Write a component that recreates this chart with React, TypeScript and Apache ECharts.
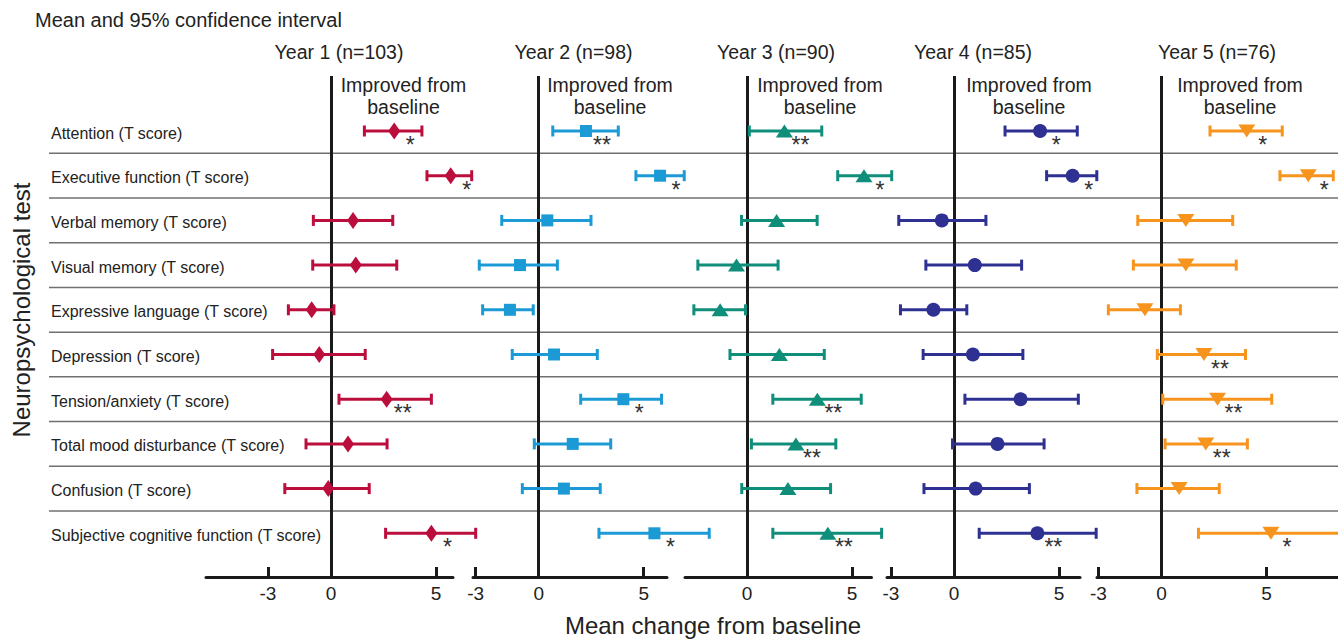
import React, { useEffect, useRef } from "react";
import * as echarts from "echarts";

// ---------- data ----------
const rowLabels = [
  "Attention (T score)",
  "Executive function (T score)",
  "Verbal memory (T score)",
  "Visual memory (T score)",
  "Expressive language (T score)",
  "Depression (T score)",
  "Tension/anxiety (T score)",
  "Total mood disturbance (T score)",
  "Confusion (T score)",
  "Subjective cognitive function (T score)",
];
const yearLabels = ["Year 1 (n=103)", "Year 2 (n=98)", "Year 3 (n=90)", "Year 4 (n=85)", "Year 5 (n=76)"];
const tickValues = [-3, 0, 5];

const y1Mean = [3.01, 5.7, 1.05, 1.18, -0.92, -0.56, 2.65, 0.81, -0.13, 4.78];
const y1Low = [1.59, 4.57, -0.84, -0.87, -2.03, -2.78, 0.38, -1.19, -2.2, 2.6];
const y1High = [4.33, 6.7, 2.94, 3.13, 0.14, 1.63, 4.78, 2.67, 1.82, 6.89];
const y1Sig = ["*", "*", "", "", "", "", "**", "", "", "*"];

const y2Mean = [2.25, 5.78, 0.41, -0.89, -1.37, 0.73, 4.03, 1.62, 1.2, 5.51];
const y2Low = [0.67, 4.63, -1.76, -2.83, -2.67, -1.26, 2.0, -0.21, -0.78, 2.87];
const y2High = [3.79, 6.93, 2.49, 0.89, -0.26, 2.79, 5.85, 3.43, 2.93, 8.12];
const y2Sig = ["**", "*", "", "", "", "", "*", "", "", "*"];

const y3Mean = [1.78, 5.57, 1.41, -0.5, -1.28, 1.54, 3.35, 2.33, 1.95, 3.85];
const y3Low = [0.11, 4.32, -0.26, -2.34, -2.53, -0.81, 1.23, 0.21, -0.25, 1.23];
const y3High = [3.56, 6.89, 3.34, 1.48, -0.07, 3.68, 5.44, 4.23, 3.98, 6.41];
const y3Sig = ["**", "*", "", "", "", "", "**", "**", "", "**"];

const y4Mean = [4.1, 5.65, -0.58, 0.99, -0.98, 0.9, 3.17, 2.07, 1.03, 3.97];
const y4Low = [2.43, 4.41, -2.63, -1.34, -2.55, -1.47, 0.52, -0.07, -1.43, 1.2];
const y4High = [5.87, 6.8, 1.52, 3.22, 0.61, 3.28, 5.92, 4.29, 3.59, 6.77];
const y4Sig = ["*", "*", "", "", "", "", "", "", "", "**"];

const y5Mean = [4.06, 6.99, 1.16, 1.16, -0.79, 2.02, 2.67, 2.11, 0.84, 5.21];
const y5Low = [2.31, 5.64, -1.13, -1.34, -2.53, -0.2, 0.06, 0.17, -1.17, 1.76];
const y5High = [5.75, 8.18, 3.39, 3.56, 0.9, 4.0, 5.25, 4.09, 2.75, 9.0];
const y5Sig = ["*", "*", "", "", "", "**", "**", "**", "", "*"];

const means = [y1Mean, y2Mean, y3Mean, y4Mean, y5Mean];
const lows = [y1Low, y2Low, y3Low, y4Low, y5Low];
const highs = [y1High, y2High, y3High, y4High, y5High];
const sigs = [y1Sig, y2Sig, y3Sig, y4Sig, y5Sig];

// ---------- styles / layout ----------
const W = 1338;
const H = 639;
const FONT = '"Liberation Sans", Arial, Helvetica, sans-serif';
const colors = ["#BC0E3D", "#1C9AD6", "#0F8E7A", "#2E3192", "#F7941E"];
const symbols = [
  { symbol: "diamond", size: [12, 17], rotate: 0 },
  { symbol: "rect", size: [12, 12], rotate: 0 },
  { symbol: "triangle", size: [17, 13], rotate: 0 },
  { symbol: "circle", size: [14, 14], rotate: 0 },
  { symbol: "triangle", size: [17, 13], rotate: 180 },
];
const panels = [
  { left: 206, zero: 331, right: 453, head: 339, improved: 403.5 },
  { left: 473, zero: 538.7, right: 667, head: 573.5, improved: 610 },
  { left: 685, zero: 747, right: 871.5, head: 776, improved: 820 },
  { left: 887, zero: 954, right: 1080, head: 973, improved: 1029 },
  { left: 1097, zero: 1161.5, right: 1338, head: 1217, improved: 1240 },
];
const PX_PER_UNIT = 21;
const GRID_TOP = 76;
const GRID_BOTTOM = 577;
const ROW0 = 131;
const ROW_STEP = 44.7;
const yMin = (GRID_TOP - ROW0) / ROW_STEP;
const yMax = (GRID_BOTTOM - ROW0) / ROW_STEP;

function buildOption() {
  const grid: any[] = [];
  const xAxis: any[] = [];
  const yAxis: any[] = [];
  const series: any[] = [];

  // background grid: separators + row labels
  grid.push({ left: 49, right: 0, top: GRID_TOP, bottom: H - GRID_BOTTOM, containLabel: false });
  xAxis.push({ gridIndex: 0, type: "value", min: 0, max: 1, show: false });
  yAxis.push({ gridIndex: 0, type: "value", min: yMin, max: yMax, inverse: true, show: false });

  const sepData = rowLabels.slice(1).map((_, i) => [0, i + 0.5]);
  series.push({
    type: "custom",
    xAxisIndex: 0,
    yAxisIndex: 0,
    silent: true,
    z: 1,
    data: sepData,
    renderItem: (params: any, api: any) => {
      const y = api.coord([0, api.value(1)])[1];
      const cs = params.coordSys;
      return {
        type: "line",
        shape: { x1: cs.x, y1: y, x2: cs.x + cs.width, y2: y },
        style: { stroke: "#707070", lineWidth: 1.5 },
      };
    },
  });
  series.push({
    type: "custom",
    xAxisIndex: 0,
    yAxisIndex: 0,
    silent: true,
    z: 2,
    data: rowLabels.map((_, i) => [0, i]),
    renderItem: (params: any, api: any) => {
      const p = api.coord([0, api.value(1)]);
      return {
        type: "text",
        x: p[0] + 2,
        y: p[1] + 2,
        style: {
          text: rowLabels[params.dataIndex],
          font: `16px ${FONT}`,
          fill: "#222",
          textAlign: "left",
          textVerticalAlign: "middle",
          align: "left",
          verticalAlign: "middle",
        },
      };
    },
  });

  panels.forEach((pl, k) => {
    const gi = k + 1;
    grid.push({ left: pl.left, right: W - pl.right, top: GRID_TOP, bottom: H - GRID_BOTTOM, containLabel: false });
    xAxis.push({
      gridIndex: gi,
      type: "value",
      min: -(pl.zero - pl.left) / PX_PER_UNIT,
      max: (pl.right - pl.zero) / PX_PER_UNIT,
      position: "bottom",
      axisLine: { show: true, onZero: false, lineStyle: { color: "#1a1a1a", width: 3 } },
      axisTick: { show: true, inside: true, length: 10, customValues: tickValues, lineStyle: { color: "#1a1a1a", width: 3 } },
      axisLabel: {
        show: true,
        customValues: tickValues,
        margin: 7,
        fontSize: 19,
        fontFamily: FONT,
        color: "#222",
        formatter: (v: number) => String(v),
      },
      splitLine: { show: false },
    });
    yAxis.push({ gridIndex: gi, type: "value", min: yMin, max: yMax, inverse: true, show: false });

    const color = colors[k];
    const lo = lows[k];
    const hi = highs[k];
    const mn = means[k];
    const sg = sigs[k];

    // error bars (+ zero line)
    series.push({
      type: "custom",
      xAxisIndex: gi,
      yAxisIndex: gi,
      silent: true,
      clip: false,
      z: 3,
      data: lo.map((l, i) => [l, hi[i], i]),
      encode: { x: [0, 1], y: 2 },
      renderItem: (params: any, api: any) => {
        const a = api.coord([api.value(0), api.value(2)]);
        const b = api.coord([api.value(1), api.value(2)]);
        const st = { stroke: color, lineWidth: 3 };
        return {
          type: "group",
          children: [
            { type: "line", shape: { x1: a[0], y1: a[1], x2: b[0], y2: b[1] }, style: st },
            { type: "line", shape: { x1: a[0], y1: a[1] - 5.5, x2: a[0], y2: a[1] + 5.5 }, style: st },
            { type: "line", shape: { x1: b[0], y1: b[1] - 5.5, x2: b[0], y2: b[1] + 5.5 }, style: st },
          ],
        };
      },
      markLine: {
        silent: true,
        symbol: ["none", "none"],
        label: { show: false },
        lineStyle: { color: "#1a1a1a", width: 3, type: "solid" },
        data: [{ xAxis: 0 }],
        z: 2,
      },
    });

    // markers
    series.push({
      type: "scatter",
      xAxisIndex: gi,
      yAxisIndex: gi,
      silent: true,
      clip: false,
      z: 4,
      symbol: symbols[k].symbol,
      symbolSize: symbols[k].size,
      symbolRotate: symbols[k].rotate,
      itemStyle: { color, opacity: 1 },
      data: mn.map((m, i) => [m, i]),
    });

    // significance stars
    series.push({
      type: "custom",
      xAxisIndex: gi,
      yAxisIndex: gi,
      silent: true,
      clip: false,
      z: 5,
      data: mn.map((m, i) => [m, i]),
      renderItem: (params: any, api: any) => {
        const s = sg[params.dataIndex];
        if (!s) return null;
        const p = api.coord([api.value(0), api.value(1)]);
        return {
          type: "text",
          x: p[0] + 16,
          y: p[1] + 14,
          style: {
            text: s,
            font: `23px ${FONT}`,
            fill: "#333",
            textAlign: "center",
            textVerticalAlign: "middle",
            align: "center",
            verticalAlign: "middle",
          },
        };
      },
    });
  });

  const txt = (text: string, x: number, y: number, size: number, align = "center", rotation = 0) => ({
    type: "text",
    x,
    y,
    rotation,
    silent: true,
    z: 10,
    style: {
      text,
      font: `${size}px ${FONT}`,
      fill: "#222",
      textAlign: align,
      textVerticalAlign: "middle",
      align,
      verticalAlign: "middle",
    },
  });

  const graphic: any[] = [
    txt("Mean and 95% confidence interval", 35, 20, 20, "left"),
    txt("Neuropsychological test", 21, 310, 24, "center", Math.PI / 2),
    txt("Mean change from baseline", 713, 625, 24, "center"),
  ];
  panels.forEach((pl, k) => {
    graphic.push(txt(yearLabels[k], pl.head, 52, 19.5));
    graphic.push(txt("Improved from", pl.improved, 85, 19.5));
    graphic.push(txt("baseline", pl.improved, 107, 19.5));
  });

  return {
    animation: false,
    backgroundColor: "#ffffff",
    textStyle: { fontFamily: FONT },
    grid,
    xAxis,
    yAxis,
    series,
    graphic,
  };
}

export default function App() {
  const ref = useRef<HTMLDivElement>(null);
  useEffect(() => {
    if (!ref.current) return;
    const chart = echarts.init(ref.current, null, { renderer: "svg" });
    chart.setOption(buildOption() as any);
    return () => chart.dispose();
  }, []);
  return (
    <div
      ref={ref}
      style={{ position: "absolute", left: 0, top: 0, width: W, height: H, background: "#fff" }}
    />
  );
}
